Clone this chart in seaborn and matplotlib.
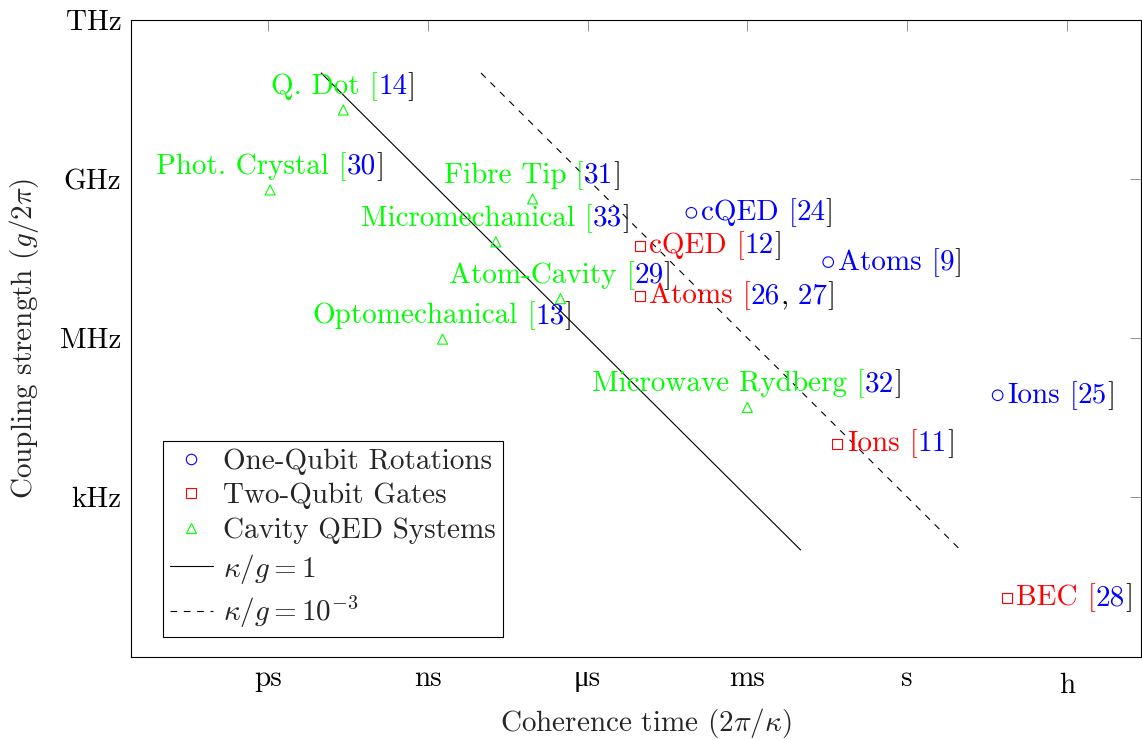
import matplotlib
matplotlib.use("Agg")
import matplotlib.pyplot as plt
import matplotlib.transforms as mtransforms
from matplotlib.offsetbox import TextArea, HPacker, AnnotationBbox
from matplotlib.ticker import FixedLocator, FixedFormatter, NullLocator
from matplotlib.lines import Line2D
import seaborn as sns

# ---------------- data ----------------
# One-qubit rotations (blue circles)
one_names = ["cQED", "Atoms", "Ions"]
one_time = [8.9e-5, 3.3e-2, 50.0]          # coherence time (s)
one_coupling = [2.3e8, 2.7e7, 8.3e4]       # g/2pi (Hz)
one_refs = [["24"], ["9"], ["25"]]

# Two-qubit gates (red squares)
two_names = ["cQED", "Atoms", "Ions", "BEC"]
two_time = [9.5e-6, 9.5e-6, 4.9e-2, 74.0]
two_coupling = [5.5e7, 6.2e6, 1.0e4, 12.6]
two_refs = [["12"], ["26", "27"], ["11"], ["28"]]

# Cavity QED systems (green triangles)
cav_names = ["Q. Dot", "Phot. Crystal", "Fibre Tip", "Micromechanical",
             "Atom-Cavity", "Optomechanical", "Microwave Rydberg"]
cav_time = [2.6e-11, 1.1e-12, 9.3e-8, 1.9e-8, 3.1e-7, 1.9e-9, 1.0e-3]
cav_coupling = [2.0e10, 6.2e8, 4.2e8, 6.5e7, 5.5e6, 9.5e5, 4.9e4]
cav_refs = [["14"], ["30"], ["31"], ["33"], ["29"], ["13"], ["32"]]

# Reference lines kappa/g = 1 and kappa/g = 1e-3 (end points)
solid_time = [1e-11, 1e-2]
solid_coupling = [1e11, 1e2]
dashed_time = [1e-8, 1e1]
dashed_coupling = [1e11, 1e2]

xtick_vals = [1e-12, 1e-9, 1e-6, 1e-3, 1e0, 1e3]
xtick_labels = ["ps", "ns", "\u03bcs", "ms", "s", "h"]
ytick_vals = [1e3, 1e6, 1e9, 1e12]
ytick_labels = ["kHz", "MHz", "GHz", "THz"]

# ---------------- style ----------------
sns.set_theme(style="white")
FAM = ["cmr10", "Liberation Serif", "DejaVu Serif"]
plt.rcParams["font.family"] = FAM
plt.rcParams["mathtext.fontset"] = "cm"
plt.rcParams["axes.formatter.use_mathtext"] = True
plt.rcParams["axes.edgecolor"] = "black"
plt.rcParams["axes.linewidth"] = 0.8

BLUE = (0, 0, 1)
RED = (1, 0, 0)
GREEN = (0, 1, 0)
FS = 21
DASH = (6, 6)

fig = plt.figure(figsize=(11.42, 7.40), dpi=100)
ax = fig.add_axes([131 / 1142, 1 - 657 / 740, (1141 - 131) / 1142, (657 - 20) / 740])
ax.set_xscale("log")
ax.set_yscale("log")
ax.set_xlim(10 ** -14.57, 10 ** 4.39)
ax.set_ylim(10 ** -0.02, 1e12)

sns.scatterplot(x=one_time, y=one_coupling, marker="o", s=58, color=BLUE,
                facecolor="none", edgecolor=BLUE, linewidth=0.8, ax=ax,
                label="One-Qubit Rotations", legend=False, zorder=3)
sns.scatterplot(x=two_time, y=two_coupling, marker="s", s=52, color=RED,
                facecolor="none", edgecolor=RED, linewidth=0.8, ax=ax,
                label="Two-Qubit Gates", legend=False, zorder=3)
sns.scatterplot(x=cav_time, y=cav_coupling, marker="^", s=52, color=GREEN,
                facecolor="none", edgecolor=GREEN, linewidth=0.8, ax=ax,
                label="Cavity QED Systems", legend=False, zorder=3)
sns.lineplot(x=solid_time, y=solid_coupling, color="black", linewidth=0.8,
             ax=ax, legend=False, zorder=2)
sns.lineplot(x=dashed_time, y=dashed_coupling, color="black", linewidth=0.8,
             ax=ax, legend=False, zorder=2)
ax.lines[-1].set_dashes(DASH)


def make_label(name, refs, color):
    parts = [(name, color), (" [", color)]
    for i, r in enumerate(refs):
        if i > 0:
            parts.append((",", "black"))
            parts.append((" " + r, BLUE))
        else:
            parts.append((r, BLUE))
    parts.append(("]", "black"))
    kids = [TextArea(t, textprops=dict(color=c, fontsize=FS, family=FAM)) for t, c in parts]
    return HPacker(children=kids, sep=0, pad=0, align="baseline")


def add_labels(names, xs, ys, refs, color, where):
    for n, x, y, r in zip(names, xs, ys, refs):
        box = make_label(n, r, color)
        if where == "above":
            ab = AnnotationBbox(box, (x, y), xybox=(0, 17), boxcoords="offset points",
                                box_alignment=(0.5, 0.5), frameon=False, pad=0,
                                annotation_clip=False)
        else:
            ab = AnnotationBbox(box, (x, y), xybox=(7.0, 0), boxcoords="offset points",
                                box_alignment=(0.0, 0.5), frameon=False, pad=0,
                                annotation_clip=False)
        ab.set_zorder(4)
        ax.add_artist(ab)


add_labels(cav_names, cav_time, cav_coupling, cav_refs, GREEN, "above")
add_labels(one_names, one_time, one_coupling, one_refs, BLUE, "right")
add_labels(two_names, two_time, two_coupling, two_refs, RED, "right")

# ticks
ax.xaxis.set_major_locator(FixedLocator(xtick_vals))
ax.xaxis.set_major_formatter(FixedFormatter(xtick_labels))
ax.yaxis.set_major_locator(FixedLocator(ytick_vals))
ax.yaxis.set_major_formatter(FixedFormatter(ytick_labels))
ax.xaxis.set_minor_locator(NullLocator())
ax.yaxis.set_minor_locator(NullLocator())
ax.tick_params(axis="both", which="major", direction="in", length=8, width=0.6,
               color="0.5", top=True, right=True, labelsize=FS, labelcolor="black")
ax.tick_params(axis="x", pad=6)
ax.tick_params(axis="y", pad=7)
for lbl in ax.get_xticklabels() + ax.get_yticklabels():
    lbl.set_family(FAM)
hl = ax.get_xticklabels()[-1]
hl.set_transform(hl.get_transform() + mtransforms.ScaledTranslation(0, -7 / 100, fig.dpi_scale_trans))

for s in ax.spines.values():
    s.set_color("black")
    s.set_linewidth(0.8)

ax.set_xlabel(r"Coherence time ($2\pi/\kappa$)", fontsize=FS)
ax.set_ylabel(r"Coupling strength ($g/2\pi$)", fontsize=FS)
ax.xaxis.set_label_coords((646 - 131) / 1010, (657 - 706) / 637)
ax.yaxis.set_label_coords((41 - 131) / 1010, 0.5)

# legend
handles = [
    Line2D([], [], linestyle="none", marker="o", markersize=7.5, markerfacecolor="none",
           markeredgecolor=BLUE, markeredgewidth=0.8),
    Line2D([], [], linestyle="none", marker="s", markersize=7, markerfacecolor="none",
           markeredgecolor=RED, markeredgewidth=0.8),
    Line2D([], [], linestyle="none", marker="^", markersize=7.5, markerfacecolor="none",
           markeredgecolor=GREEN, markeredgewidth=0.8),
    Line2D([], [], color="black", linewidth=0.8),
    Line2D([], [], color="black", linewidth=0.8, dashes=DASH),
]
labels = ["One-Qubit Rotations", "Two-Qubit Gates", "Cavity QED Systems",
          r"$\kappa/g = 1$", r"$\kappa/g = 10^{-3}$"]
leg = ax.legend(handles, labels, loc="lower left",
                bbox_to_anchor=((163 - 131) / 1010, (657 - 637) / 637),
                borderaxespad=0, fontsize=FS, frameon=True, fancybox=False,
                framealpha=1, edgecolor="black", handlelength=1.45,
                handletextpad=0.35, borderpad=0.25, labelspacing=0.27)
leg.get_frame().set_linewidth(0.8)

fig.savefig("out.png", dpi=100)
